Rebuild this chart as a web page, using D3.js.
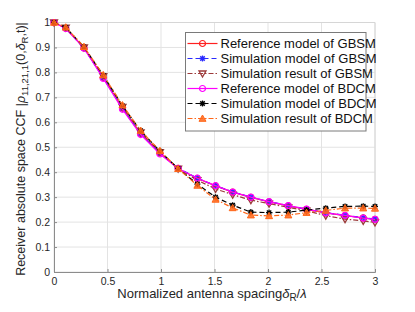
<!DOCTYPE html>
<html>
<head>
<meta charset="utf-8">
<script src="https://cdn.jsdelivr.net/npm/d3@7"></script>
<style>
  body { margin: 0; background: #fff; }
  svg { font-family: "Liberation Sans", Arial, sans-serif; }
</style>
</head>
<body>
<div id="container"></div>
<script>
/* DATA */
const spacing = [0, 0.11, 0.28, 0.46, 0.64, 0.81, 0.99, 1.16, 1.34, 1.51, 1.67, 1.84, 2.01, 2.19, 2.36, 2.54, 2.72, 2.89, 3.0]

const refGBSM      = [1, 0.977, 0.898, 0.780, 0.657, 0.555, 0.477, 0.415, 0.375, 0.345, 0.320, 0.299, 0.281, 0.265, 0.251, 0.237, 0.226, 0.217, 0.211]
const simModelGBSM = [1, 0.977, 0.897, 0.779, 0.656, 0.554, 0.477, 0.416, 0.376, 0.346, 0.321, 0.300, 0.282, 0.266, 0.252, 0.238, 0.227, 0.218, 0.212]
const simResGBSM   = [1, 0.979, 0.900, 0.785, 0.662, 0.560, 0.480, 0.414, 0.368, 0.333, 0.310, 0.288, 0.274, 0.259, 0.246, 0.226, 0.212, 0.205, 0.199]
const refBDCM      = [1, 0.976, 0.897, 0.776, 0.652, 0.551, 0.473, 0.415, 0.376, 0.346, 0.320, 0.300, 0.282, 0.266, 0.252, 0.237, 0.227, 0.216, 0.211]
const simModelBDCM = [1, 0.980, 0.902, 0.788, 0.666, 0.566, 0.484, 0.415, 0.352, 0.300, 0.268, 0.240, 0.238, 0.240, 0.248, 0.256, 0.263, 0.264, 0.263]
const simResBDCM   = [1, 0.981, 0.903, 0.790, 0.669, 0.567, 0.486, 0.414, 0.347, 0.291, 0.257, 0.228, 0.225, 0.228, 0.238, 0.247, 0.256, 0.256, 0.255]

const xTicks = [0, 0.5, 1, 1.5, 2, 2.5, 3]
const yTicks = [0, 0.1, 0.2, 0.3, 0.4, 0.5, 0.6, 0.7, 0.8, 0.9, 1]

const seriesNames = ["Reference model of GBSM", "Simulation model of GBSM", "Simulation result of GBSM",
                     "Reference model of BDCM", "Simulation model of BDCM", "Simulation result of BDCM"]
const seriesValues = [refGBSM, simModelGBSM, simResGBSM, refBDCM, simModelBDCM, simResBDCM]

/* styles per series */
const styles = [
  { color: "#ff2020", dash: null,      marker: "circle" },
  { color: "#2a2aff", dash: "5,3",     marker: "star" },
  { color: "#9c3a3a", dash: "5,2,1.5,2", marker: "down" },
  { color: "#ff00ff", dash: null,      marker: "circle" },
  { color: "#000000", dash: "5,3",     marker: "star" },
  { color: "#ff6619", dash: "5,2,1.5,2", marker: "up" }
]

/* CONSTANTS */
const width = 415, height = 312
const margin = { top: 22.5, right: 40, bottom: 40, left: 54 }

const svg = d3.select("#container").append("svg")
  .attr("width", width)
  .attr("height", height)

const xScale = d3.scaleLinear().domain([0, 3]).range([margin.left, width - margin.right])
const yScale = d3.scaleLinear().domain([0, 1]).range([height - margin.bottom, margin.top])

/* grid */
svg.append("g").selectAll("line.vg")
  .data(xTicks)
  .join("line")
  .attr("x1", d => xScale(d)).attr("x2", d => xScale(d))
  .attr("y1", yScale(0)).attr("y2", yScale(1))
  .attr("stroke", "#e3e3e3").attr("stroke-width", 1)

svg.append("g").selectAll("line.hg")
  .data(yTicks)
  .join("line")
  .attr("y1", d => yScale(d)).attr("y2", d => yScale(d))
  .attr("x1", xScale(0)).attr("x2", xScale(3))
  .attr("stroke", "#e3e3e3").attr("stroke-width", 1)

/* light box top + right */
svg.append("path")
  .attr("d", `M${xScale(0)},${yScale(1)}H${xScale(3)}V${yScale(0)}`)
  .attr("fill", "none").attr("stroke", "#d6d6d6")

/* axes, ticks inward */
const xAxis = d3.axisBottom(xScale).tickValues(xTicks).tickSize(-3).tickPadding(6).tickFormat(d3.format("~g"))
const xAxisGroup = svg.append("g")
  .attr("transform", `translate(0, ${yScale(0)})`)
  .call(xAxis)

const yAxis = d3.axisLeft(yScale).tickValues(yTicks).tickSize(-3).tickPadding(6).tickFormat(d3.format("~g"))
const yAxisGroup = svg.append("g")
  .attr("transform", `translate(${xScale(0)}, 0)`)
  .call(yAxis)

for (const g of [xAxisGroup, yAxisGroup]) {
  g.select(".domain").attr("stroke", "#8c8c8c").attr("stroke-width", 1)
  g.selectAll(".tick line").attr("stroke", "#8c8c8c")
  g.selectAll(".tick text").attr("fill", "#262626").style("font-size", "10.5px")
}
yAxisGroup.selectAll(".tick text").attr("dx", "2")

/* marker drawing */
function drawMarker(sel, type, color) {
  if (type === "circle") {
    sel.append("circle").attr("r", 3).attr("fill", "none").attr("stroke", color).attr("stroke-width", 1.2)
  } else if (type === "star") {
    sel.append("path")
      .attr("d", "M-3,0H3M0,-3V3M-2.2,-2.2L2.2,2.2M-2.2,2.2L2.2,-2.2")
      .attr("stroke", color).attr("stroke-width", 1.3).attr("fill", "none")
  } else if (type === "down") {
    sel.append("path").attr("d", "M-3.5,-2.5L3.5,-2.5L0,3.5Z")
      .attr("fill", "none").attr("stroke", color).attr("stroke-width", 1.3)
  } else if (type === "up") {
    sel.append("path").attr("d", "M-3.5,2.8L3.5,2.8L0,-3.5Z")
      .attr("fill", color).attr("fill-opacity", 0.85).attr("stroke", color).attr("stroke-width", 1)
  }
}

const lineGen = d3.line()
  .x(d => xScale(d[0]))
  .y(d => yScale(d[1]))

seriesValues.forEach((vals, i) => {
  const pts = spacing.map((x, j) => [x, vals[j]])
  const st = styles[i]
  svg.append("path")
    .datum(pts)
    .attr("d", lineGen)
    .attr("fill", "none")
    .attr("stroke", st.color)
    .attr("stroke-width", 1.2)
    .attr("stroke-dasharray", st.dash)

  svg.append("g").selectAll("g")
    .data(pts)
    .join("g")
    .attr("transform", d => `translate(${xScale(d[0])},${yScale(d[1])})`)
    .each(function() { drawMarker(d3.select(this), st.marker, st.color) })
})

/* legend */
const legend = svg.append("g").attr("transform", "translate(185.5, 32.5)")
legend.append("rect")
  .attr("width", 180.5).attr("height", 98.5)
  .attr("fill", "#fff").attr("stroke", "#7a7a7a").attr("stroke-width", 1)

seriesNames.forEach((name, i) => {
  const st = styles[i]
  const row = legend.append("g").attr("transform", `translate(0, ${11 + i * 15})`)
  row.append("line")
    .attr("x1", 2).attr("x2", 32)
    .attr("stroke", st.color).attr("stroke-width", 1.2)
    .attr("stroke-dasharray", st.dash)
  drawMarker(row.append("g").attr("transform", "translate(17,0)"), st.marker, st.color)
  row.append("text")
    .attr("x", 35).attr("y", 4.5)
    .style("font-size", "13px")
    .attr("fill", "#111")
    .text(name)
})

/* axis labels */
const xLabel = svg.append("text")
  .attr("x", 212).attr("y", 298)
  .attr("text-anchor", "middle")
  .style("font-size", "13px")
  .attr("fill", "#262626")
xLabel.append("tspan").text("Normalized antenna spacing")
xLabel.append("tspan").style("font-style", "italic").text("δ")
xLabel.append("tspan").attr("dy", 3).style("font-size", "10px").text("R")
xLabel.append("tspan").attr("dy", -3).text("/")
xLabel.append("tspan").style("font-style", "italic").text("λ")

const yLabel = svg.append("text")
  .attr("transform", "translate(25, 149) rotate(-90)")
  .attr("text-anchor", "middle")
  .style("font-size", "12.5px")
  .attr("fill", "#262626")
yLabel.append("tspan").text("Receiver absolute space CCF |")
yLabel.append("tspan").style("font-style", "italic").text("ρ")
yLabel.append("tspan").attr("dy", 3).style("font-size", "9.5px").text("11,21,1")
yLabel.append("tspan").attr("dy", -3).text("(0,")
yLabel.append("tspan").style("font-style", "italic").text("δ")
yLabel.append("tspan").attr("dy", 3).style("font-size", "9.5px").text("R")
yLabel.append("tspan").attr("dy", -3).text(",t)|")
</script>
</body>
</html>
